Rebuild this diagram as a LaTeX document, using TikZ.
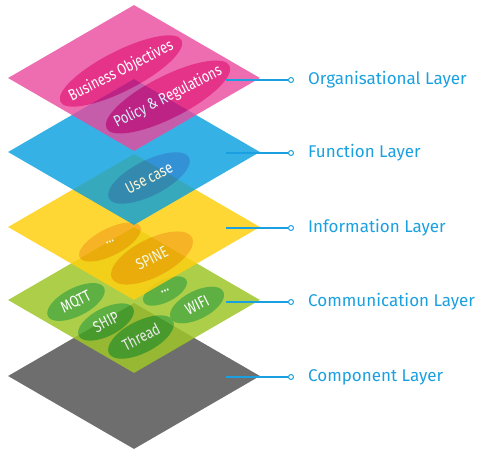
\documentclass[tikz,border=0pt]{standalone}
\usepackage{fontspec}
\setmainfont{Fira Sans}
\newfontfamily\tagfont[FakeStretch=0.8]{Fira Sans}
\usetikzlibrary{shapes.geometric}

\definecolor{orgpink}{RGB}{234,72,156}
\definecolor{orgtag}{RGB}{222,0,108}
\definecolor{funblue}{RGB}{4,158,224}
\definecolor{funtag}{RGB}{0,118,204}
\definecolor{infoyellow}{RGB}{255,208,16}
\definecolor{infotag}{RGB}{244,166,0}
\definecolor{comgreen}{RGB}{158,198,40}
\definecolor{comtag}{RGB}{66,162,34}
\definecolor{compgrey}{RGB}{110,110,110}
\definecolor{linkblue}{RGB}{26,160,224}

\begin{document}
\begin{tikzpicture}[x=1pt, y=-1pt,
layernode/.style={diamond, inner sep=0pt, minimum width=252pt, minimum height=146pt},
tagnode/.style={ellipse, inner sep=0pt, rotate=27, text=white, font=\tagfont\fontsize{16}{17}\selectfont,
  execute at begin node={\hbox to 0pt\bgroup\hss}, execute at end node={\hss\egroup}},
dotnode/.style={circle, draw=linkblue, fill=white, line width=1pt, inner sep=0pt, minimum size=5pt},
leader/.style={draw=linkblue, line width=1.2pt},
labelnode/.style={anchor=west, text=linkblue, inner sep=0pt, font=\fontsize{17}{20}\selectfont},
]
\useasboundingbox (0,0) rectangle (484,457);

%Layers
\node[layernode, fill=compgrey] (component) at (134,376) {};

\begin{scope}[transparency group, opacity=0.85]
\node[layernode, fill=comgreen] (communication) at (134,300) {};
\node[tagnode, fill=comtag, minimum width=63pt, minimum height=28pt] (mqtt) at (76,302) {MQTT};
\node[tagnode, fill=comtag, minimum width=61pt, minimum height=28pt] (ship) at (106,322) {SHIP};
\node[tagnode, fill=comtag, minimum width=72pt, minimum height=32pt] (thread) at (141,337) {Thread};
\node[tagnode, fill=comtag, minimum width=48pt, minimum height=22pt] (comdots) at (165,291) {...};
\node[tagnode, fill=comtag, minimum width=59pt, minimum height=28pt] (wifi) at (197,305) {WIFI};
\end{scope}

\begin{scope}[transparency group, opacity=0.85]
\node[layernode, fill=infoyellow] (information) at (134,227) {};
\node[tagnode, fill=infotag, minimum width=68pt, minimum height=27pt] (infodots) at (110,242) {...};
\node[tagnode, fill=infotag, minimum width=90pt, minimum height=38pt] (spine) at (152,258) {SPINE};
\end{scope}

\begin{scope}[transparency group, opacity=0.8]
\node[layernode, fill=funblue] (function) at (134,152) {};
\node[tagnode, fill=funtag, minimum width=90pt, minimum height=35pt] (usecase) at (149,178) {Use case};
\end{scope}

\begin{scope}[transparency group, opacity=0.8]
\node[layernode, fill=orgpink] (organisational) at (134,78) {};
\node[tagnode, fill=orgtag, minimum width=136pt, minimum height=40pt] (business) at (121,71) {Business Objectives};
\node[tagnode, fill=orgtag, minimum width=138pt, minimum height=42pt] (policy) at (168,97) {Policy \& Regulations};
\end{scope}

%Lines
\coordinate (orgpin) at (226,80);
\coordinate (funpin) at (226,153);
\coordinate (infopin) at (226,228);
\coordinate (compin) at (226,302);
\coordinate (partpin) at (226,377);

\node[dotnode] (orgdot) at (291,80) {};
\node[dotnode] (fundot) at (291,153) {};
\node[dotnode] (infodot) at (291,228) {};
\node[dotnode] (comdot) at (291,302) {};
\node[dotnode] (partdot) at (291,377) {};

\draw[leader] (orgpin) -- (orgdot);
\draw[leader] (funpin) -- (fundot);
\draw[leader] (infopin) -- (infodot);
\draw[leader] (compin) -- (comdot);
\draw[leader] (partpin) -- (partdot);

%Labels
\node[labelnode] (orglabel) at (308,80) {Organisational Layer};
\node[labelnode] (funlabel) at (308,153) {Function Layer};
\node[labelnode] (infolabel) at (308,228) {Information Layer};
\node[labelnode] (comlabel) at (308,302) {Communication Layer};
\node[labelnode] (partlabel) at (308,377) {Component Layer};

\end{tikzpicture}
\end{document}
